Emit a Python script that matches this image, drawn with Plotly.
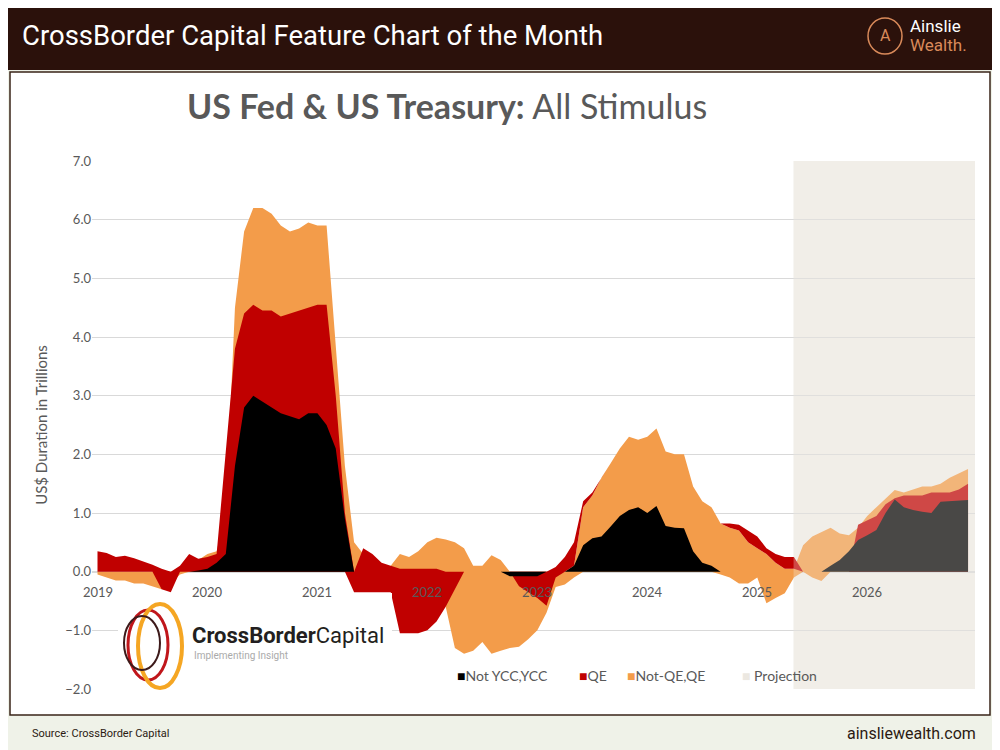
import plotly.graph_objects as go

# monthly, Jan 2019 .. Dec 2026
months = [2019 + i / 12 for i in range(96)]

orange_hi = [0,0,0,0,0,0,0,0,0,0.05,0.15,0.2,
             0.3,0.35,1.0,4.5,5.8,6.2,6.2,6.1,5.9,5.8,5.85,5.95,
             5.9,5.9,3.8,1.8,0.5,0.3,0.1,0.0,0.1,0.3,0.25,0.35,
             0.5,0.58,0.55,0.5,0.4,0.1,0.1,0.28,0.2,0,0,0,
             0,0,0,0,0.1,1.1,1.3,1.6,1.85,2.1,2.3,2.25,
             2.3,2.44,2.05,2.0,2.0,1.45,1.2,1.1,0.82,0.75,0.7,0.5,
             0.4,0.3,0.15,0.05,0.05,0.45,0.6,0.68,0.75,0.65,0.62,0.75,
             0.95,1.1,1.25,1.39,1.35,1.4,1.45,1.45,1.5,1.6,1.67,1.75]
orange_lo = [-0.05,-0.1,-0.15,-0.15,-0.2,-0.2,-0.25,-0.3,-0.2,-0.05,0,0,
             0,0,0,0,0,0,0,0,0,0,0,0,
             0,0,0,0,0,0,0,0,0,0,0,0,
             0,0,-0.6,-1.3,-1.4,-1.35,-1.2,-1.4,-1.35,-1.3,-1.28,-1.15,
             -1.0,-0.7,-0.26,-0.22,-0.1,0,0,0,0,0,0,0,
             0,0,0,0,0,0,0,0,-0.05,-0.1,-0.2,-0.2,
             -0.1,-0.54,-0.45,-0.37,-0.1,0,-0.1,-0.16,0,0,0,0,
             0,0,0,0,0,0,0,0,0,0,0,0]
red_hi = [0.35,0.32,0.25,0.27,0.23,0.18,0.12,0.05,0,0.1,0.3,0.22,
          0.25,0.3,2.0,3.8,4.4,4.55,4.45,4.45,4.35,4.4,4.45,4.5,
          4.55,4.55,3.0,1.0,0,0.4,0.3,0.15,0.1,0.05,0.05,0.05,
          0.05,0.05,0,0,0,0,0,0,0,0,0,0,
          0,0,0.08,0.25,0.5,1.2,1.35,1.6,1.85,0,0,0,
          0,0,0,0,0,0,0,0,0.82,0.82,0.8,0.7,
          0.6,0.4,0.3,0.25,0.25,0,0,0,0,0,0,0.8,
          0.88,0.95,1.15,1.25,1.3,1.3,1.3,1.35,1.35,1.35,1.4,1.5]
red_lo = [0,0,0,0,0,0,0,-0.3,-0.35,0,0,0,
          0,0,0,0,0,0,0,0,0,0,0,0,
          0,0,0,0,-0.35,-0.35,-0.35,-0.35,-0.35,-1.05,-1.05,-1.05,
          -1.0,-0.85,-0.6,-0.3,0,0,0,0,0,0,-0.25,-0.35,
          -0.45,-0.58,-0.1,0,0.1,1.1,1.3,1.6,1.85,0,0,0,
          0,0,0,0,0,0,0,0,0.82,0.75,0.7,0.5,
          0.4,0.3,0.15,0.05,0.05,0,0,0,0,0,0,0,
          0,0,0,0,0,0,0,0,0,0,0,0]
black_hi = [0,0,0,0,0,0,0,0,0,0,0,0.02,
            0.05,0.15,0.3,1.8,2.8,3.0,2.9,2.8,2.7,2.65,2.6,2.7,
            2.7,2.5,2.1,0.9,0,0,0,0,0,0,0,0,
            0,0,0,0,0,0,0,0,0,0,0,0,
            0,0,0,0,0.1,0.45,0.57,0.6,0.77,0.95,1.05,1.1,
            1.0,1.12,0.78,0.75,0.74,0.35,0.15,0.1,0,0,0,0,
            0,0,0,0,0,0,0,0,0.1,0.2,0.35,0.54,
            0.62,0.71,1.0,1.23,1.1,1.05,1.02,1.0,1.19,1.2,1.22,1.22]
black_lo = [0]*45 + [-0.08,-0.08,-0.08,-0.08] + [0]*47

year_labels = [2019, 2020, 2021, 2022, 2023, 2024, 2025, 2026]
y_ticks = [7, 6, 5, 4, 3, 2, 1, 0, -1, -2]
proj_start, x_end = 2025.33, 2026.98

C_BLACK, C_RED, C_ORANGE = "#000000", "#c00000", "#f39c4a"
GRAY = "#595959"

fig = go.Figure()
for lo, hi, col, name in [(orange_lo, orange_hi, C_ORANGE, "Not-QE,QE"),
                          (red_lo, red_hi, C_RED, "QE"),
                          (black_lo, black_hi, C_BLACK, "Not YCC,YCC")]:
    fig.add_trace(go.Scatter(x=months, y=lo, mode="lines", line=dict(width=0),
                             showlegend=False, hoverinfo="skip"))
    fig.add_trace(go.Scatter(x=months, y=hi, mode="lines", line=dict(width=0),
                             fill="tonexty", fillcolor=col, name=name, showlegend=False))

W, H, OFF = 992, 742, 8
L, R, T, B = 84, 25, 153, 61
PW, PH = W - L - R, H - T - B
def px(x): return (x - OFF - L) / PW
def py(y): return (H - B - (y - OFF)) / PH

shapes = [
    dict(type="rect", xref="paper", yref="paper", x0=px(0), x1=px(1010), y0=py(70), y1=py(0),
         fillcolor="#2b110b", line_width=0, layer="below"),
    dict(type="rect", xref="paper", yref="paper", x0=px(10), x1=px(990), y0=py(715), y1=py(72),
         fillcolor="#ffffff", line=dict(color="#3a2418", width=1.5), layer="below"),
    dict(type="rect", xref="x", yref="paper", x0=proj_start, x1=x_end, y0=0, y1=1,
         fillcolor="#f1eee9", line_width=0, layer="between"),
    dict(type="rect", xref="x", yref="paper", x0=proj_start, x1=x_end, y0=0, y1=1,
         fillcolor="#f1eee9", opacity=0.3, line_width=0, layer="above"),
    dict(type="rect", xref="paper", yref="paper", x0=px(118), x1=px(392), y0=py(686), y1=py(593),
         fillcolor="#ffffff", line_width=0, layer="above"),
    dict(type="circle", xref="paper", yref="paper", x0=px(128), x1=px(168), y0=py(680), y1=py(610),
         line=dict(color="#c0161b", width=3), layer="above"),
    dict(type="circle", xref="paper", yref="paper", x0=px(138), x1=px(182), y0=py(688), y1=py(604),
         line=dict(color="#f5a623", width=4), layer="above"),
    dict(type="circle", xref="paper", yref="paper", x0=px(124), x1=px(160), y0=py(670), y1=py(616),
         line=dict(color="#3d1a1a", width=2), layer="above"),
    dict(type="circle", xref="paper", yref="paper", x0=px(868), x1=px(902), y0=py(54), y1=py(18),
         line=dict(color="#d98a5a", width=1.5), layer="above"),
]

ann = []
for yr in year_labels:
    ann.append(dict(x=yr, y=0, xref="x", yref="y", text=str(yr), showarrow=False,
                    yshift=-20, font=dict(size=13, color=GRAY, family="Lato")))
def pann(x, y, text, size, color, xanchor="left", **kw):
    ann.append(dict(x=px(x), y=py(y), xref="paper", yref="paper", text=text, showarrow=False,
                    xanchor=xanchor, yanchor="middle", font=dict(size=size, color=color, **kw)))
pann(20, 35, "CrossBorder Capital Feature Chart of the Month", 27.5, "#ffffff", family="Roboto")
pann(885, 36, "A", 16, "#d98a5a", xanchor="center", family="Roboto")
pann(908, 26, "Ainslie", 17, "#ffffff", family="Roboto")
pann(908, 45, "Wealth.", 17, "#d98a5a", family="Roboto")
pann(185, 106, "<b>US Fed & US Treasury:</b> All Stimulus", 34, GRAY, family="Lato")
pann(190, 635, "<b>CrossBorder</b>Capital", 22, "#231f20", family="Roboto")
pann(192, 655, "Implementing Insight", 10, "#aaaaaa", family="Roboto")
pann(455, 675, f"<span style='color:{C_BLACK}'>■</span>Not YCC,YCC", 14, GRAY, family="Lato")
pann(577, 675, f"<span style='color:{C_RED}'>■</span>QE", 14, GRAY, family="Lato")
pann(625, 675, f"<span style='color:{C_ORANGE}'>■</span>Not-QE,QE", 14, GRAY, family="Lato")
pann(740, 675, "<span style='color:#ece8e1'>■</span> Projection", 14, GRAY, family="Lato")
pann(30, 733, "Source: CrossBorder Capital", 11, "#2b1a12", family="Roboto")
pann(978, 733, "ainsliewealth.com", 16, "#2b1a12", xanchor="right", family="Roboto")

fig.update_layout(
    width=W, height=H, margin=dict(l=L, r=R, t=T, b=B),
    paper_bgcolor="#eff2e8", plot_bgcolor="#ffffff",
    shapes=shapes, annotations=ann, showlegend=False,
    xaxis=dict(range=[2018.95, x_end], showgrid=False, showticklabels=False,
               zeroline=False, ticks=""),
    yaxis=dict(range=[-2, 7], tickvals=y_ticks, tickformat=".1f",
               gridcolor="#d9d9d9", gridwidth=1.2, zeroline=True, zerolinecolor="#d9d9d9",
               zerolinewidth=1.5, tickfont=dict(size=13, color=GRAY, family="Lato"),
               title=dict(text="US$ Duration in Trillions", font=dict(size=15, color=GRAY, family="Lato"),
                          standoff=14)),
)
fig.write_html("out.html")
